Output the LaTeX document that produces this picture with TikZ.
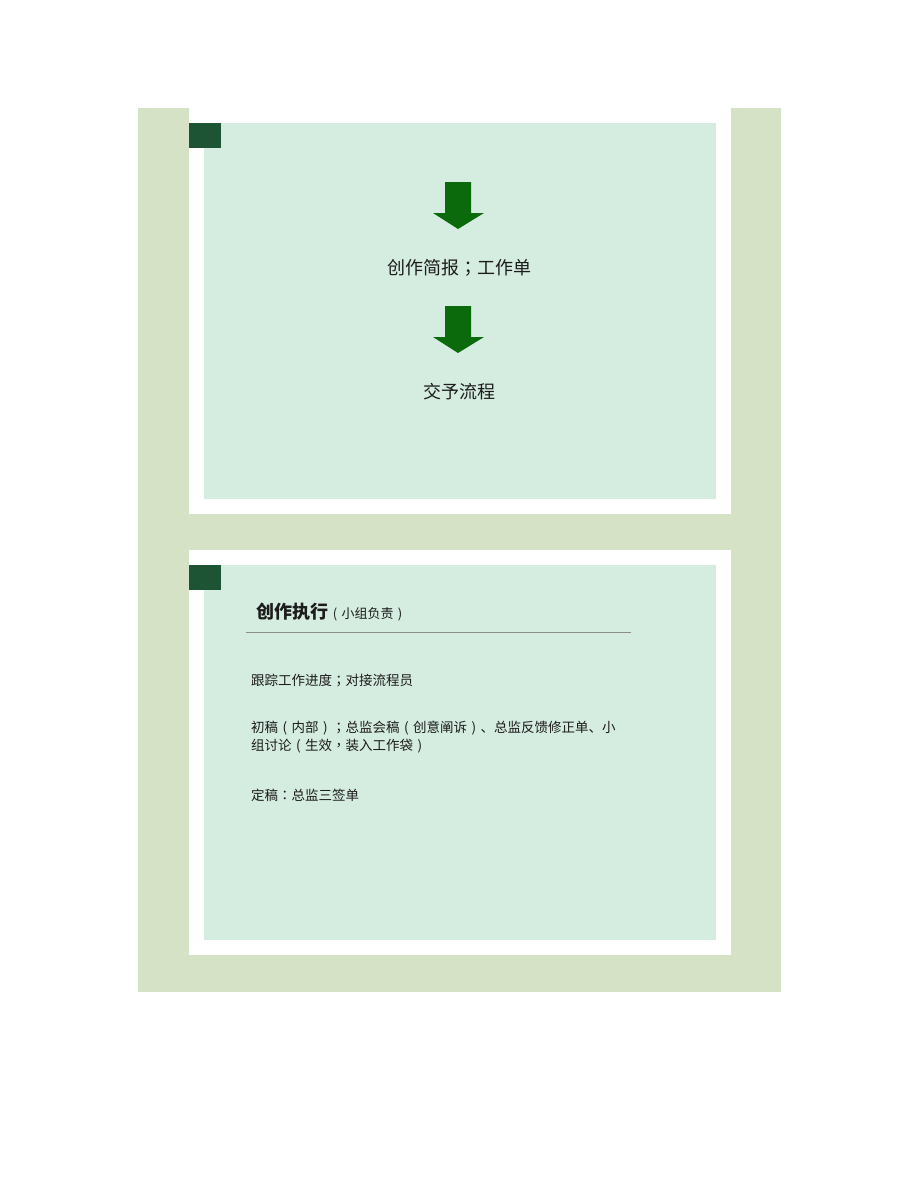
\documentclass[tikz,border=0pt]{standalone}
\usepackage{fontspec}
\newfontfamily\cjk{Noto Sans CJK SC}
\newfontfamily\cjktc{Noto Sans CJK TC}
% centred full-width marks
\newcommand\fsemi{{\cjktc ；}}
\newcommand\fcomma{{\cjktc ，}}
\newcommand\fcolon{{\cjktc ：}}
\newcommand\flp{\makebox[1em]{(}}
\newcommand\frp{\makebox[1em]{)}}
\definecolor{sage}{HTML}{D6E2C6}
\definecolor{mint}{HTML}{D5ECE0}
\definecolor{tagsq}{HTML}{1D5433}
\definecolor{arrowgreen}{HTML}{0B6A0B}
\definecolor{ink}{HTML}{1C1C1C}
\definecolor{rulegray}{HTML}{8A8F8C}
\begin{document}
\begin{tikzpicture}[x=1pt,y=-1pt,
    bigtext/.style={inner sep=0pt,text=ink,font=\cjk\fontsize{18}{22}\selectfont},
    bodytext/.style={inner sep=0pt,text=ink,anchor=west,align=left,font=\cjk\fontsize{13.5}{17.5}\selectfont},
    smalltext/.style={inner sep=0pt,text=ink,font=\cjk\fontsize{13}{16}\selectfont}]
  \useasboundingbox (0,0) rectangle (920,1191);
  \fill[white] (0,0) rectangle (920,1191);
  % frames
  \fill[sage] (138,108) rectangle (781,992);
  \fill[white] (189,108) rectangle (731,514);
  \fill[white] (189,550) rectangle (731,955);
  \fill[mint] (204,123) rectangle (716,499);
  \fill[mint] (204,565) rectangle (716,940);
  \fill[tagsq] (189,123) rectangle (221,148);
  \fill[tagsq] (189,565) rectangle (221,590);
  % first slide
  \foreach \y in {182,306}
    \fill[arrowgreen] (445,\y) -- ++(26,0) -- ++(0,31) -- ++(13,0)
      -- ++(-26,16) -- ++(-25,-16) -- ++(12,0) -- cycle;
  \node[bigtext] (brief) at (459,268) {创作简报\fsemi 工作单};
  \node[bigtext] (hand) at (459,392) {交予流程};
  % second slide
  \node[bigtext,anchor=base west] (exec) at (256,618) {\bfseries 创作执行};
  \node[smalltext,anchor=base west] (team) at (exec.base east) {\flp 小组负责\frp};
  \coordinate (ruleA) at (246,632);
  \coordinate (ruleB) at (631,632);
  \draw[rulegray,line width=0.8pt] (ruleA) -- (ruleB);
  \node[bodytext] (track) at (251,680) {跟踪工作进度\fsemi 对接流程员};
  \node[bodytext] (draft) at (251,737) {初稿\flp 内部\frp\fsemi 总监会稿\flp 创意阐诉\frp 、总监反馈修正单、小\\组讨论\flp 生效\fcomma 装入工作袋\frp};
  \node[bodytext] (final) at (251,795) {定稿\fcolon 总监三签单};
\end{tikzpicture}
\end{document}
